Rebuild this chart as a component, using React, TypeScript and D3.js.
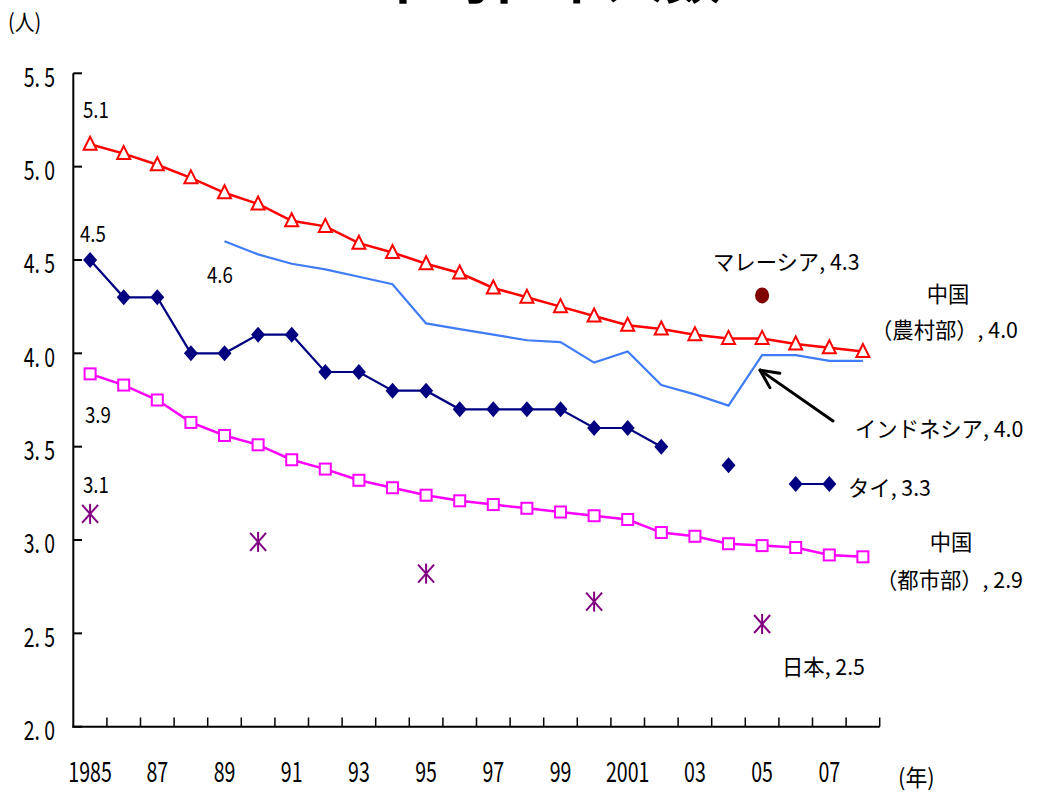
import React from "react";
import * as d3 from "d3";

const years = d3.range(1985, 2009);
const xTickLabels: Record<number, string> = {
  1985: "1985", 1987: "87", 1989: "89", 1991: "91", 1993: "93", 1995: "95",
  1997: "97", 1999: "99", 2001: "2001", 2003: "03", 2005: "05", 2007: "07",
};
const yTicks = [2.0, 2.5, 3.0, 3.5, 4.0, 4.5, 5.0, 5.5];

const chinaRural = [5.12, 5.07, 5.01, 4.94, 4.86, 4.80, 4.71, 4.68, 4.59, 4.54, 4.48, 4.43,
  4.35, 4.30, 4.25, 4.20, 4.15, 4.13, 4.10, 4.08, 4.08, 4.05, 4.03, 4.01];
const chinaUrban = [3.89, 3.83, 3.75, 3.63, 3.56, 3.51, 3.43, 3.38, 3.32, 3.28, 3.24, 3.21,
  3.19, 3.17, 3.15, 3.13, 3.11, 3.04, 3.02, 2.98, 2.97, 2.96, 2.92, 2.91];
const thailand: (number | null)[] = [4.5, 4.3, 4.3, 4.0, 4.0, 4.1, 4.1, 3.9, 3.9, 3.8, 3.8, 3.7,
  3.7, 3.7, 3.7, 3.6, 3.6, 3.5, null, 3.4, null, 3.3, 3.3, null];
const indonesia: (number | null)[] = [null, null, null, null, 4.60, 4.53, 4.48, 4.45, 4.41, 4.37,
  4.16, 4.13, 4.10, 4.07, 4.06, 3.95, 4.01, 3.83, 3.78, 3.72, 3.99, 3.99, 3.96, 3.96];
const japanYears = [1985, 1990, 1995, 2000, 2005];
const japan = [3.14, 2.99, 2.82, 2.67, 2.55];
const malaysiaYears = [2005];
const malaysia = [4.31];

const W = 1042, H = 792;
const FONT = "'Noto Sans CJK JP', 'Noto Sans', sans-serif";

function T({ x, y, children, size = 22, anchor = "start", sx = 0.85, weight = "normal" }: any) {
  return (
    <text transform={`translate(${x},${y}) scale(${sx},1)`} textAnchor={anchor}
      dominantBaseline="central" fontSize={size} fontFamily={FONT} fontWeight={weight} fill="#000">
      {children}
    </text>
  );
}

export default function App() {
  const x = d3.scaleBand<number>().domain(years).range([73.3, 879.7]).padding(0);
  const cx = (yr: number) => (x(yr) as number) + x.bandwidth() / 2;
  const y = d3.scaleLinear().domain([2, 5.5]).range([726.7, 73.3]);

  const mkLine = (vals: (number | null)[]) =>
    d3.line<number | null>()
      .defined((d) => d !== null)
      .x((_, i) => cx(years[i]))
      .y((d) => y(d as number))(vals) as string;

  const tri = (px: number, py: number, k: string) => (
    <path key={k} d={`M${px},${py - 7.5} L${px + 6.5},${py + 5.5} L${px - 6.5},${py + 5.5} Z`}
      fill="#fff" stroke="#ff0000" strokeWidth={2} />
  );
  const sq = (px: number, py: number, k: string) => (
    <rect key={k} x={px - 5.5} y={py - 5.5} width={11} height={11} fill="#fff" stroke="#ff00ff" strokeWidth={2} />
  );
  const dia = (px: number, py: number, k: string) => (
    <path key={k} d={`M${px},${py - 8} L${px + 7},${py} L${px},${py + 8} L${px - 7},${py} Z`} fill="#000080" />
  );
  const star = (px: number, py: number, k: string) => (
    <g key={k} stroke="#800080" strokeWidth={2}>
      <line x1={px} y1={py - 10} x2={px} y2={py + 10} />
      <line x1={px - 8} y1={py - 9} x2={px + 8} y2={py + 9} />
      <line x1={px + 8} y1={py - 9} x2={px - 8} y2={py + 9} />
    </g>
  );

  // arrow (Indonesia annotation)
  const tipX = cx(2005) - 2, tipY = y(3.99) + 15;
  const tailX = 833, tailY = 421;
  const ang = Math.atan2(tailY - tipY, tailX - tipX);
  const ah = 20, spread = 0.45;

  const JX = 0.97;

  return (
    <div style={{ position: "absolute", left: 0, top: 0 }}>
      <svg width={W} height={H} style={{ display: "block", background: "#fff" }}>
        <rect x={0} y={0} width={W} height={H} fill="#fff" />
        {/* title (cut off at top, as in the source) */}
        <text x={548} y={-2} textAnchor="middle" fontSize={58} fontWeight="bold" fontFamily={FONT}>平均世帯人数</text>
        <T x={8} y={21} size={22} sx={0.9}>(人)</T>

        {/* axes */}
        <line x1={73.3} y1={73.3} x2={73.3} y2={727.5} stroke="#000" strokeWidth={2} />
        <line x1={72.3} y1={726.7} x2={879.7} y2={726.7} stroke="#000" strokeWidth={2} />
        {yTicks.map((v) => (
          <g key={"yt" + v}>
            <line x1={73.3} x2={82} y1={y(v)} y2={y(v)} stroke="#000" strokeWidth={2} />
            <T x={55} y={y(v) + 2} size={27} anchor="end" sx={0.72}>
              {v.toFixed(1).replace(".", ". ")}
            </T>
          </g>
        ))}
        {years.map((yr) => (
          <line key={"xt" + yr} x1={(x(yr) as number) + x.bandwidth()} x2={(x(yr) as number) + x.bandwidth()}
            y1={726.7} y2={717.5} stroke="#000" strokeWidth={1.5} />
        ))}
        {years.filter((yr) => xTickLabels[yr]).map((yr) => (
          <T key={"xl" + yr} x={cx(yr)} y={770} size={28} anchor="middle" sx={0.7}>{xTickLabels[yr]}</T>
        ))}
        <T x={898} y={776} size={23} sx={0.95}>(年)</T>

        {/* series lines */}
        <path d={mkLine(chinaRural)} fill="none" stroke="#ff0000" strokeWidth={2.5} />
        <path d={mkLine(chinaUrban)} fill="none" stroke="#ff00ff" strokeWidth={2.5} />
        <path d={mkLine(indonesia)} fill="none" stroke="#3f7cf5" strokeWidth={2.2} />
        <path d={mkLine(thailand)} fill="none" stroke="#000080" strokeWidth={2.2} />

        {chinaRural.map((v, i) => tri(cx(years[i]), y(v), "r" + i))}
        {chinaUrban.map((v, i) => sq(cx(years[i]), y(v), "u" + i))}
        {thailand.map((v, i) => (v === null ? null : dia(cx(years[i]), y(v), "t" + i)))}
        {japan.map((v, i) => star(cx(japanYears[i]), y(v), "j" + i))}
        {malaysia.map((v, i) => (
          <ellipse key={"m" + i} cx={cx(malaysiaYears[i])} cy={y(v)} rx={7} ry={8} fill="#800000" />
        ))}

        {/* arrow */}
        <g stroke="#000" strokeWidth={3} fill="none" strokeLinecap="round">
          <line x1={tailX} y1={tailY} x2={tipX} y2={tipY} />
          <line x1={tipX} y1={tipY} x2={tipX + ah * Math.cos(ang - spread)} y2={tipY + ah * Math.sin(ang - spread)} />
          <line x1={tipX} y1={tipY} x2={tipX + ah * Math.cos(ang + spread)} y2={tipY + ah * Math.sin(ang + spread)} />
        </g>

        {/* annotations */}
        <T x={83} y={108}>5.1</T>
        <T x={80} y={232}>4.5</T>
        <T x={207} y={273}>4.6</T>
        <T x={85} y={413}>3.9</T>
        <T x={83} y={483}>3.1</T>
        <T x={713} y={260} sx={JX}>マレーシア, 4.3</T>
        <T x={948} y={292} anchor="middle" sx={JX}>中国</T>
        <T x={871} y={328} sx={JX}>（農村部）, 4.0</T>
        <T x={855} y={427} sx={JX}>インドネシア, 4.0</T>
        <T x={848} y={486} sx={JX}>タイ, 3.3</T>
        <T x={951} y={540} anchor="middle" sx={JX}>中国</T>
        <T x={876} y={578} sx={JX}>（都市部）, 2.9</T>
        <T x={782} y={665} sx={JX}>日本, 2.5</T>
      </svg>
    </div>
  );
}
